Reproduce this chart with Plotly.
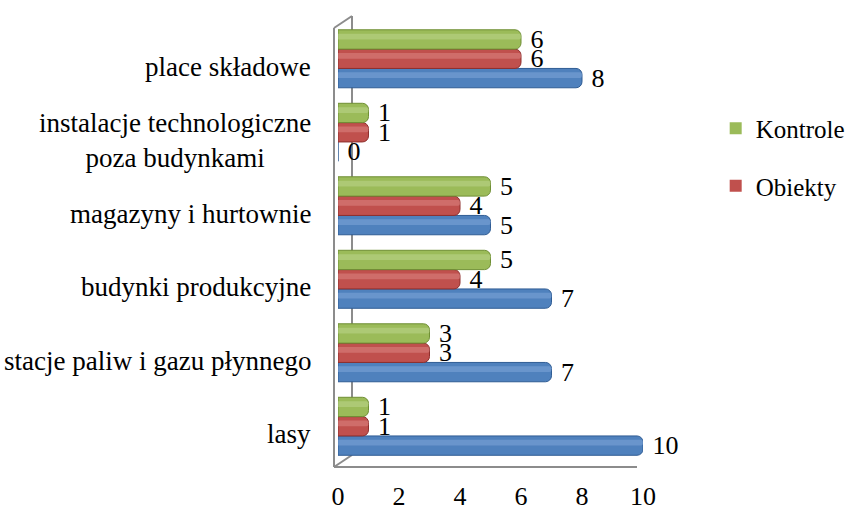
import plotly.graph_objects as go

# ---- data ----
categories = ["lasy", "stacje paliw i gazu płynnego", "budynki produkcyjne",
              "magazyny i hurtownie", "instalacje technologiczne<br>poza budynkami",
              "place składowe"]
blue_vals = [10, 7, 7, 5, 0, 8]
obiekty_vals = [1, 3, 4, 4, 1, 6]
kontrole_vals = [1, 3, 5, 5, 1, 6]
x_ticks = [0, 2, 4, 6, 8, 10]

# ---- layout geometry ----
W, H = 851, 510
L, R, T, B = 338, 208, 22, 47
PW, PH = W - L - R, H - T - B
FONT = "Liberation Serif, Times New Roman, serif"

def px_x(px):
    return (px - L) / PW

def px_y(py):
    return (H - B - py) / PH

idx = list(range(len(categories)))
bw = 0.263
series = [
    ("blue", blue_vals, "#4F81BD", "#7FA6D8", "#2F5C94", -0.395, False, 3),
    ("Obiekty", obiekty_vals, "#C0504D", "#DB8584", "#8E2F2D", -0.132, True, 2),
    ("Kontrole", kontrole_vals, "#9BBB59", "#BCD68C", "#6F8F34", 0.131, True, 1),
]

fig = go.Figure()
for name, vals, col, light, dark, off, show, rank in series:
    fig.add_trace(go.Bar(
        y=idx, x=vals, orientation="h", name=name, width=bw, offset=off,
        marker=dict(color=col, line=dict(color=dark, width=1), cornerradius=6),
        text=[str(v) for v in vals], texttemplate="\u00a0%{text}",
        textposition="outside", constraintext="none", cliponaxis=False,
        textfont=dict(family=FONT, size=26, color="black"),
        showlegend=False, hoverinfo="x",
    ))
for name, vals, col, light, dark, off, show, rank in series:
    fig.add_trace(go.Bar(
        y=idx, x=vals, orientation="h", width=bw * 0.3, offset=off + bw * 0.5,
        marker=dict(color=light, opacity=0.55, line=dict(width=0), cornerradius=3),
        showlegend=False, hoverinfo="skip",
    ))
# legend entries (square swatches, as in the reference)
for name, vals, col, light, dark, off, show, rank in series:
    if show:
        fig.add_trace(go.Bar(
            y=[None], x=[None], orientation="h", name=name,
            marker=dict(color=col, line=dict(width=0)),
            showlegend=True, legendgroup=name, legendrank=rank, hoverinfo="skip",
        ))

gray = "#8C8C8C"
frame = [
    (334, 28, 334, 467),
    (334, 28, 352, 16),
    (352, 16, 352, 455),
    (334, 467, 352, 455),
    (334, 467, 637, 467),
]
shapes = [dict(type="line", xref="paper", yref="paper",
               x0=px_x(a), y0=px_y(b), x1=px_x(c), y1=px_y(d),
               line=dict(color=gray, width=2), layer="below")
          for a, b, c, d in frame]

annotations = [dict(xref="paper", yref="y", x=px_x(313), y=i, text=c,
                    xanchor="right", yanchor="middle", align="center",
                    yshift=-8, showarrow=False,
                    font=dict(family=FONT, size=27, color="black"))
               for i, c in enumerate(categories)]

fig.update_layout(
    width=W, height=H,
    margin=dict(l=L, r=R, t=T, b=B, autoexpand=False),
    paper_bgcolor="white", plot_bgcolor="white",
    barmode="overlay",
    font=dict(family=FONT, color="black"),
    shapes=shapes, annotations=annotations,
    xaxis=dict(range=[0, 10], tickvals=x_ticks, showgrid=False, zeroline=False,
               showline=False, ticks="", ticklabelstandoff=15, automargin=False,
               tickfont=dict(family=FONT, size=26, color="black")),
    yaxis=dict(range=[-0.5, 5.5], showticklabels=False, showgrid=False,
               zeroline=False, showline=False, ticks="", automargin=False),
    legend=dict(xref="container", yref="container", x=0.841, y=0.692,
                xanchor="left", yanchor="middle",
                traceorder="grouped", tracegroupgap=22,
                font=dict(family=FONT, size=25, color="black"),
                bgcolor="rgba(0,0,0,0)"),
)

fig.write_html("out.html", config={"displayModeBar": False},
               post_script="document.body.style.margin='0';document.body.style.overflow='hidden';")
